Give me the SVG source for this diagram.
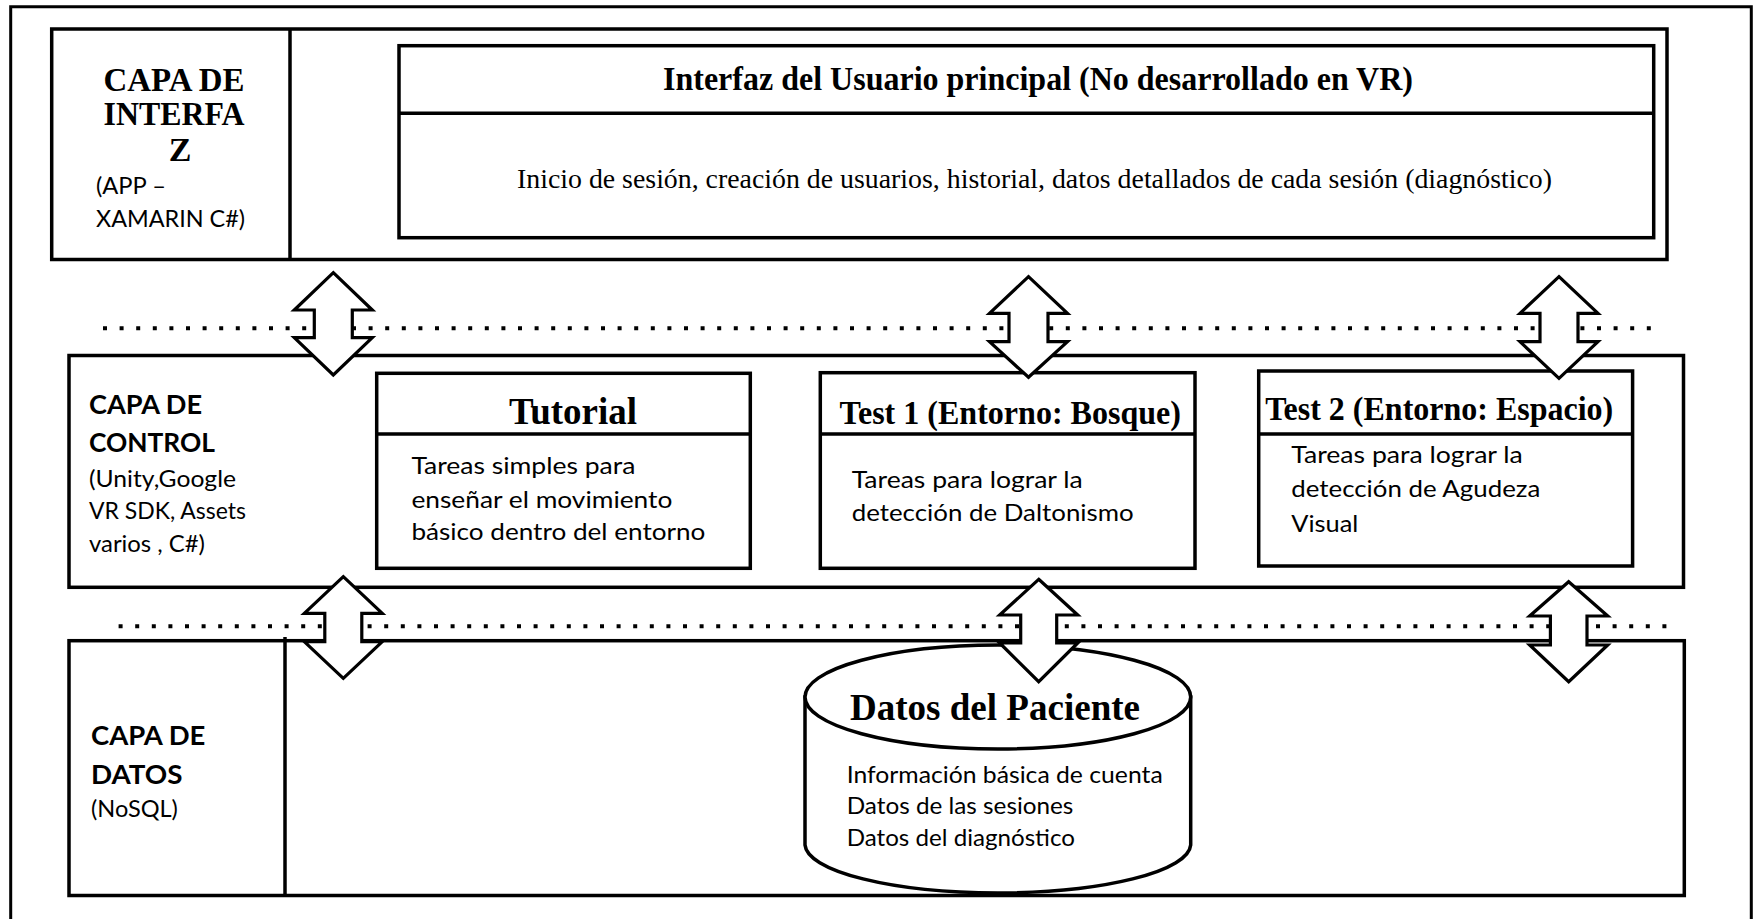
<svg xmlns="http://www.w3.org/2000/svg" width="1760" height="919" viewBox="0 0 1760 919">
  <style>
    .box { fill: #ffffff; stroke: #000000; stroke-width: 3.5; }
    .line { fill: none; stroke: #000000; stroke-width: 3.5; }
    .frame { fill: none; stroke: #000000; stroke-width: 3; }
    .dots { fill: none; stroke: #000000; stroke-width: 4; stroke-dasharray: 4 12.6; }
    .arrow { fill: #ffffff; stroke: #000000; stroke-width: 3.2; stroke-linejoin: miter; }
    .serif-b { font-family: "Liberation Serif", "Times New Roman", serif; font-weight: bold; fill: #000000; }
    .serif { font-family: "Liberation Serif", "Times New Roman", serif; fill: #000000; }
    .sans { font-family: Lato, "Liberation Sans", sans-serif; fill: #000000; }
    .sans-b { font-family: Lato, "Liberation Sans", sans-serif; font-weight: bold; fill: #000000; }
  </style>

  <rect x="0" y="0" width="1760" height="919" fill="#ffffff"/>

  <!-- outer page frame, open at the bottom -->
  <path class="frame" d="M10.7,925 V6.7 H1751.3 V925"/>

  <!-- interface layer -->
  <g id="capa-interfaz">
    <rect class="box" x="51.7" y="29" width="1615.3" height="230.5"/>
    <line class="line" x1="290" y1="29" x2="290" y2="259.5"/>
    <text class="serif-b" x="174" y="91" font-size="34" text-anchor="middle" textLength="141" lengthAdjust="spacingAndGlyphs">CAPA DE</text>
    <text class="serif-b" x="174" y="124.5" font-size="34" text-anchor="middle" textLength="141" lengthAdjust="spacingAndGlyphs">INTERFA</text>
    <text class="serif-b" x="180" y="161" font-size="34" text-anchor="middle">Z</text>
    <text class="sans" x="96" y="193.5" font-size="23" textLength="70" lengthAdjust="spacingAndGlyphs">(APP –</text>
    <text class="sans" x="96" y="227" font-size="23" textLength="149" lengthAdjust="spacingAndGlyphs">XAMARIN C#)</text>
  </g>

  <g id="interfaz-usuario">
    <rect class="box" x="399" y="45.7" width="1254.7" height="192"/>
    <line class="line" x1="399" y1="113.3" x2="1653.7" y2="113.3"/>
    <text class="serif-b" x="663" y="90" font-size="33" textLength="750" lengthAdjust="spacingAndGlyphs">Interfaz del Usuario principal (No desarrollado en VR)</text>
    <text class="serif" x="517" y="188" font-size="28" textLength="1035" lengthAdjust="spacingAndGlyphs">Inicio de sesión, creación de usuarios, historial, datos detallados de cada sesión (diagnóstico)</text>
  </g>

  <!-- control layer -->
  <g id="capa-control">
    <rect class="box" x="69" y="355.5" width="1614.5" height="231.8"/>
    <text class="sans-b" x="89" y="414" font-size="27" textLength="113" lengthAdjust="spacingAndGlyphs">CAPA DE</text>
    <text class="sans-b" x="89" y="452.3" font-size="27" textLength="126" lengthAdjust="spacingAndGlyphs">CONTROL</text>
    <text class="sans" x="89" y="486.7" font-size="23" textLength="147" lengthAdjust="spacingAndGlyphs">(Unity,Google</text>
    <text class="sans" x="89" y="518.5" font-size="23" textLength="157" lengthAdjust="spacingAndGlyphs">VR SDK, Assets</text>
    <text class="sans" x="89" y="552" font-size="23" textLength="116" lengthAdjust="spacingAndGlyphs">varios , C#)</text>
  </g>

  <g id="tutorial">
    <rect class="box" x="376.7" y="373.3" width="373.6" height="195"/>
    <line class="line" x1="376.7" y1="434" x2="750.3" y2="434"/>
    <text class="serif-b" x="509" y="424" font-size="38" textLength="128" lengthAdjust="spacingAndGlyphs">Tutorial</text>
    <text class="sans" x="411.4" y="474" font-size="24" textLength="224" lengthAdjust="spacingAndGlyphs">Tareas simples para</text>
    <text class="sans" x="411.4" y="507.5" font-size="24" textLength="261" lengthAdjust="spacingAndGlyphs">enseñar el movimiento</text>
    <text class="sans" x="411.4" y="540" font-size="24" textLength="294" lengthAdjust="spacingAndGlyphs">básico dentro del entorno</text>
  </g>

  <g id="test-1">
    <rect class="box" x="820.3" y="372.7" width="374.7" height="195.6"/>
    <line class="line" x1="820.3" y1="434" x2="1195" y2="434"/>
    <text class="serif-b" x="839.5" y="424" font-size="33" textLength="341.5" lengthAdjust="spacingAndGlyphs">Test 1 (Entorno: Bosque)</text>
    <text class="sans" x="851.7" y="487.5" font-size="24" textLength="231" lengthAdjust="spacingAndGlyphs">Tareas para lograr la</text>
    <text class="sans" x="851.7" y="521" font-size="24" textLength="282" lengthAdjust="spacingAndGlyphs">detección de Daltonismo</text>
  </g>

  <g id="test-2">
    <rect class="box" x="1258.7" y="371" width="373.9" height="195"/>
    <line class="line" x1="1258.7" y1="434" x2="1632.6" y2="434"/>
    <text class="serif-b" x="1265.2" y="420" font-size="33" textLength="348" lengthAdjust="spacingAndGlyphs">Test 2 (Entorno: Espacio)</text>
    <text class="sans" x="1291.3" y="462.5" font-size="24" textLength="231.5" lengthAdjust="spacingAndGlyphs">Tareas para lograr la</text>
    <text class="sans" x="1291.3" y="497.3" font-size="24" textLength="249" lengthAdjust="spacingAndGlyphs">detección de Agudeza</text>
    <text class="sans" x="1291.3" y="531.7" font-size="24" textLength="67" lengthAdjust="spacingAndGlyphs">Visual</text>
  </g>

  <!-- data layer -->
  <g id="capa-datos">
    <rect class="box" x="69" y="640.7" width="1615.3" height="254.8"/>
    <line class="line" x1="285" y1="637" x2="285" y2="895.5"/>
    <text class="sans-b" x="91" y="745" font-size="27" textLength="114.4" lengthAdjust="spacingAndGlyphs">CAPA DE</text>
    <text class="sans-b" x="91" y="784" font-size="27" textLength="91.5" lengthAdjust="spacingAndGlyphs">DATOS</text>
    <text class="sans" x="91" y="817.3" font-size="23" textLength="86.9" lengthAdjust="spacingAndGlyphs">(NoSQL)</text>
  </g>

  <g id="datos-paciente">
    <path class="box" d="M805,697 V845 A192.9,49 0 0,0 1190.7,845 V697 Z"/>
    <ellipse class="box" cx="997.85" cy="697" rx="192.85" ry="52"/>
    <text class="serif-b" x="850" y="720" font-size="38" textLength="290" lengthAdjust="spacingAndGlyphs">Datos del Paciente</text>
    <text class="sans" x="846.7" y="782.7" font-size="24" textLength="316" lengthAdjust="spacingAndGlyphs">Información básica de cuenta</text>
    <text class="sans" x="846.7" y="814.3" font-size="24" textLength="226.7" lengthAdjust="spacingAndGlyphs">Datos de las sesiones</text>
    <text class="sans" x="846.7" y="846" font-size="24" textLength="228.3" lengthAdjust="spacingAndGlyphs">Datos del diagnóstico</text>
  </g>

  <!-- dotted separators between layers -->
  <g id="separadores">
    <line class="dots" x1="103" y1="328.3" x2="1653" y2="328.3"/>
    <line class="dots" x1="118.6" y1="626.3" x2="1670" y2="626.3"/>
  </g>

  <!-- double-headed block arrows between layers -->
  <g id="conectores">
    <path class="arrow" d="M333.3,272.7 L372.3,310 L352.3,310 L352.3,337.7 L372.3,337.7 L333.3,375 L294.3,337.7 L314.3,337.7 L314.3,310 L294.3,310 Z"/>
    <path class="arrow" d="M1028.5,276.7 L1067.5,313.3 L1048,313.3 L1048,341.7 L1067.5,341.7 L1028.5,377.3 L989.5,341.7 L1009,341.7 L1009,313.3 L989.5,313.3 Z"/>
    <path class="arrow" d="M1559,276.7 L1598,313.3 L1578,313.3 L1578,341.7 L1598,341.7 L1559,378.3 L1520,341.7 L1540,341.7 L1540,313.3 L1520,313.3 Z"/>
    <path class="arrow" d="M343.3,576.7 L382.3,613.3 L361.8,613.3 L361.8,641.7 L382.3,641.7 L343.3,678.3 L304.3,641.7 L324.8,641.7 L324.8,613.3 L304.3,613.3 Z"/>
    <path class="arrow" d="M1038.7,579.3 L1077.7,615 L1056.7,615 L1056.7,643 L1077.7,643 L1038.7,681.7 L999.7,643 L1020.7,643 L1020.7,615 L999.7,615 Z"/>
    <path class="arrow" d="M1568.7,581.7 L1607.7,616 L1587,616 L1587,645 L1607.7,645 L1568.7,681.7 L1529.7,645 L1550.4,645 L1550.4,616 L1529.7,616 Z"/>
  </g>
</svg>
